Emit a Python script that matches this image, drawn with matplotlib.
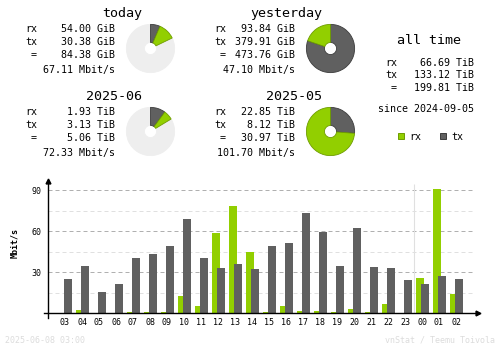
import matplotlib
matplotlib.use("Agg")
import matplotlib.pyplot as plt
from matplotlib.patches import Rectangle

W, H = 500, 348
MONO = "DejaVu Sans Mono"
RX_COLOR = "#92cf00"
TX_COLOR = "#606060"
RX_EDGE = "#6e9c00"
TX_EDGE = "#3c3c3c"
REST_COLOR = "#eeeeee"
FOOT_COLOR = "#dcdcdc"

# hourly average rate (Mbit/s), 03:00 yesterday .. 02:00 today
hours = ["03", "04", "05", "06", "07", "08", "09", "10", "11", "12", "13", "14",
         "15", "16", "17", "18", "19", "20", "21", "22", "23", "00", "01", "02"]
rx_rate = [0, 2.4, 0, 0, 1.0, 1.0, 1.0, 12.9, 5.4, 58.8, 78.5, 44.9,
           1.0, 5.4, 1.7, 1.7, 1.0, 3.2, 1.0, 6.8, 0, 25.9, 91.0, 14.1]
tx_rate = [25.4, 34.6, 15.6, 21.5, 40.5, 43.4, 49.3, 69.0, 40.5, 33.2, 36.1, 32.4,
           49.3, 51.5, 73.4, 59.5, 34.6, 62.4, 33.9, 33.2, 24.4, 21.5, 27.3, 25.1]

# period summaries
periods = ["today", "yesterday", "2025-06", "2025-05"]
period_rx = [54.00, 93.84, 1.93, 22.85]
period_tx = [30.38, 379.91, 3.13, 8.12]
period_total = [84.38, 473.76, 5.06, 30.97]
period_unit = ["GiB", "GiB", "TiB", "TiB"]
period_rate = [67.11, 47.10, 72.33, 101.70]
# ongoing periods are drawn against the previous period's total
period_previous = [1, None, 3, None]

alltime_rx, alltime_tx, alltime_total = 66.69, 133.12, 199.81
since_date = "2024-09-05"
stamp = "2025-06-08 03:00"

SMALL, LARGE, TINY = 7.2, 9.6, 6.0

fig = plt.figure(figsize=(W / 100, H / 100), dpi=100)
fig.patch.set_facecolor("white")

# pixel-space overlay for the text blocks
ov = fig.add_axes([0, 0, 1, 1])
ov.set_xlim(0, W)
ov.set_ylim(H, 0)
ov.axis("off")


def txt(x, y, s, size=SMALL, ha="left", color="black", **kw):
    ov.text(x, y, s, fontsize=size, ha=ha, va="baseline", color=color,
            family=MONO, **kw)


block_offsets = [(0, 0), (180, 0), (0, 83), (180, 83)]
label_right = [37, 226, 37, 226]
for i, name in enumerate(periods):
    dx, dy = block_offsets[i]
    unit = period_unit[i]
    txt(142 + dx, 16.7 + dy, name, size=LARGE, ha="right")
    rows = [("rx", period_rx[i]), ("tx", period_tx[i]), ("=", period_total[i])]
    for j, (lab, v) in enumerate(rows):
        y = 32.3 + 12.7 * j + dy
        txt(label_right[i], y, lab, ha="right")
        txt(115 + dx, y, f"{v:.2f} {unit}", ha="right")
    txt(115 + dx, 72.7 + dy, f"{period_rate[i]:.2f} Mbit/s", ha="right")

    # donut: tx then rx clockwise from 12 o'clock
    cx, cy, r = 150.5 + dx, 48.5 + dy, 24.6
    pax = fig.add_axes([(cx - r) / W, 1 - (cy + r) / H, 2 * r / W, 2 * r / H])
    vals = [period_tx[i], period_rx[i]]
    cols = [TX_COLOR, RX_COLOR]
    edges = [TX_EDGE, RX_EDGE]
    if period_previous[i] is not None:
        vals.append(period_total[period_previous[i]] - period_total[i])
        cols.append(REST_COLOR)
        edges.append(REST_COLOR)
    wedges, _ = pax.pie(vals, colors=cols, startangle=90, counterclock=False,
                        radius=1.0, wedgeprops=dict(width=0.75, linewidth=0.6))
    for w, ec in zip(wedges, edges):
        w.set_edgecolor(ec)
    if len(wedges) == 3:
        wedges[2].set_zorder(0)
    pax.set_xlim(-1.02, 1.02)
    pax.set_ylim(-1.02, 1.02)

# all time block
txt(429, 44.3, "all time", size=LARGE, ha="center")
for j, (lab, v) in enumerate([("rx", alltime_rx), ("tx", alltime_tx), ("=", alltime_total)]):
    y = 65.7 + 12.5 * j
    txt(397, y, lab, ha="right")
    txt(474, y, f"{v:.2f} TiB", ha="right")
txt(474, 111.7, f"since {since_date}", ha="right")

# legend
for x0, col, ec, lab in [(398.3, RX_COLOR, RX_EDGE, "rx"), (440.3, TX_COLOR, TX_EDGE, "tx")]:
    ov.add_patch(Rectangle((x0, 133.3), 6, 6, facecolor=col, edgecolor=ec, lw=0.7))
    txt(x0 + 11, 139.7, lab)

# footer
txt(5, 342.7, stamp, size=TINY, color=FOOT_COLOR)
txt(495, 342.7, "vnStat / Teemu Toivola", size=TINY, ha="right", color=FOOT_COLOR)

# hourly bar chart
x0_px, x1_px, base_px, top_px = 48.3, 478.5, 313.3, 181.0
slot_px = 17.0
unit_px = 41.0 / 30
xlo = -(65.0 - x0_px) / slot_px
xhi = xlo + (x1_px - x0_px) / slot_px
yhi = (base_px - top_px) / unit_px
ax = fig.add_axes([x0_px / W, 1 - base_px / H, (x1_px - x0_px) / W, (base_px - top_px) / H])
ax.set_xlim(xlo, xhi)
ax.set_ylim(0, yhi)
for s in ax.spines.values():
    s.set_visible(False)
ax.patch.set_alpha(0)

xs = list(range(len(hours)))
grid_end = (472.7 - 65.0) / slot_px
ax.hlines([15, 45, 75], xlo, grid_end, colors="#e0e0e0", lw=0.72, linestyles=(0, (4, 3)))
ax.hlines([30, 60, 90], xlo, grid_end, colors="#b0b0b0", lw=0.72, linestyles=(0, (4, 3)))
ax.vlines(20.5, 0, 94.6, colors="#e0e0e0", lw=0.8)

bw = 8 / slot_px
off = 2.5 / slot_px
ax.bar([x - off for x in xs], rx_rate, width=bw, color=RX_COLOR, zorder=3)
ax.bar([x + off for x in xs], tx_rate, width=bw, color=TX_COLOR, zorder=4)

# axes with arrow heads
ax.plot([xlo - 4.3 / slot_px, xhi], [0, 0], color="black", lw=1.0, clip_on=False, zorder=5)
ax.plot([xlo, xlo], [-3.3, yhi], color="black", lw=1.0, clip_on=False, zorder=5)
ax.plot([xhi], [0], marker=">", color="black", ms=3.5, clip_on=False, zorder=6)
ax.plot([xlo], [yhi], marker="^", color="black", ms=3.5, clip_on=False, zorder=6)

ax.set_xticks(xs)
ax.set_xticklabels(hours, family=MONO, fontsize=TINY)
ax.set_yticks([30, 60, 90])
ax.set_yticklabels(["30", "60", "90"], family=MONO, fontsize=TINY)
ax.tick_params(length=0)
ax.tick_params(axis="x", pad=3.6)
ax.tick_params(axis="y", pad=4.7)

ov.text(15, 242.7, "Mbit/s", rotation=90, ha="center", va="center",
        fontsize=TINY, family=MONO, fontweight="bold")

fig.savefig("out.png", dpi=100, facecolor="white")
